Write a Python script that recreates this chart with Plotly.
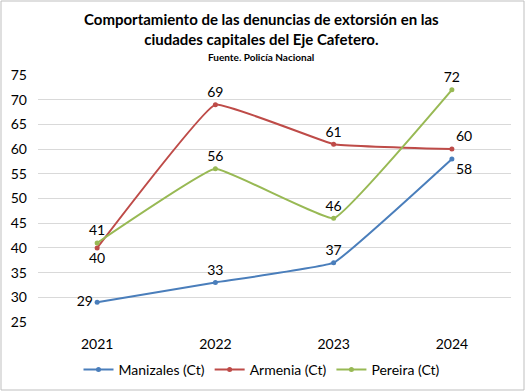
import plotly.graph_objects as go

years = ["2021", "2022", "2023", "2024"]
manizales = [29, 33, 37, 58]
armenia = [40, 69, 61, 60]
pereira = [41, 56, 46, 72]
y_ticks = [25, 30, 35, 40, 45, 50, 55, 60, 65, 70, 75]

FONT = "Lato, 'Open Sans', sans-serif"
W, H = 525, 391
L, R, T, B = 38, 14, 75, 69
pw, ph = W - L - R, H - T - B

fig = go.Figure()

def add(name, vals, color, positions):
    fig.add_trace(go.Scatter(
        x=years, y=vals, name=name, mode="lines+markers+text",
        line=dict(color=color, width=2, shape="spline", smoothing=0.25),
        marker=dict(color=color, size=5),
        text=[str(v) for v in vals], textposition=positions,
        textfont=dict(size=14, color="black", family=FONT),
        cliponaxis=False,
    ))

add("Manizales (Ct)", manizales, "#4a7ebb",
    ["middle left", "top center", "top center", "bottom right"])
add("Armenia (Ct)", armenia, "#be4b48",
    ["bottom center", "top center", "top center", "top right"])
add("Pereira (Ct)", pereira, "#98b954",
    ["top center", "top center", "top center", "top center"])

fig.update_layout(
    width=W, height=H,
    margin=dict(l=L, r=R, t=T, b=B, autoexpand=False),
    paper_bgcolor="white", plot_bgcolor="white",
    font=dict(family=FONT, color="black", size=14),
    showlegend=True,
    legend=dict(orientation="h", x=(262 - L) / pw, xanchor="center",
                y=-(370 - (H - B)) / ph, yanchor="middle",
                font=dict(size=14), itemwidth=30, traceorder="normal"),
    xaxis=dict(type="category", showgrid=False, showline=False, ticks="",
               tickfont=dict(size=14), range=[-0.5, 3.5], ticklabelstandoff=12),
    yaxis=dict(range=[25, 75], tickvals=y_ticks, showgrid=True, gridcolor="#d9d9d9",
               gridwidth=1, zeroline=False, showline=False, tickfont=dict(size=14),
               ticks="", ticklabelstandoff=10),
    annotations=[
        dict(text="<b>Comportamiento de las denuncias de extorsión en las<br>ciudades capitales del Eje Cafetero.</b>",
             xref="paper", yref="paper", x=(261 - L) / pw, y=((H - B) - 29) / ph,
             xanchor="center", yanchor="middle", showarrow=False,
             font=dict(size=15, family=FONT), align="center"),
        dict(text="<b>Fuente. Policía Nacional</b>",
             xref="paper", yref="paper", x=(261 - L) / pw, y=((H - B) - 57) / ph,
             xanchor="center", yanchor="middle", showarrow=False,
             font=dict(size=10, family=FONT)),
    ],
    shapes=[dict(type="rect", xref="paper", yref="paper",
                 x0=(1 - L) / pw, x1=(W - 1 - L) / pw,
                 y0=-(H - 1 - (H - B)) / ph, y1=(H - B - 1) / ph,
                 line=dict(color="#bfbfbf", width=1))],
)

fig.write_html("out.html", config={"displayModeBar": False},
               post_script="document.body.style.margin='0';document.body.style.overflow='hidden';")
